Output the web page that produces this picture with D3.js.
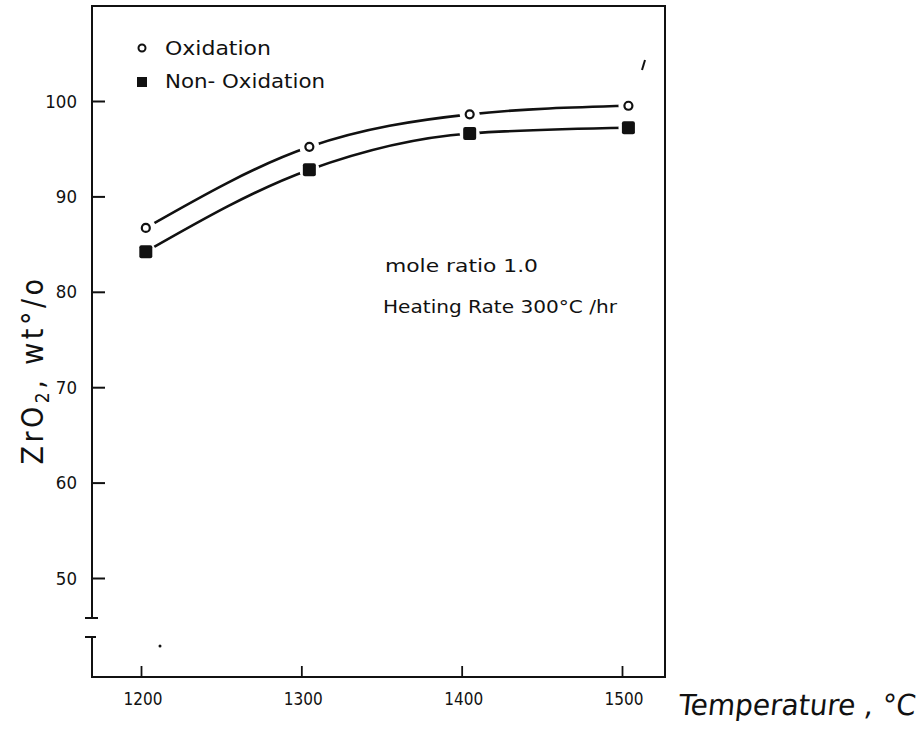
<!DOCTYPE html>
<html><head><meta charset="utf-8">
<script src="https://cdn.jsdelivr.net/npm/d3@7"></script>
<style>body{margin:0;background:#fff}svg{display:block}text{font-family:"DejaVu Sans Condensed","DejaVu Sans",sans-serif;fill:#111}</style>
</head><body>
<script>
const temps = [1203, 1305, 1405, 1504];
const oxidation = [86.7, 95.2, 98.6, 99.5];
const nonOxidation = [84.2, 92.8, 96.6, 97.2];
const xTicks = [1200, 1300, 1400, 1500];
const yTicks = [50, 60, 70, 80, 90, 100];
const seriesNames = ["Oxidation", "Non- Oxidation"];
const notes = ["mole ratio  1.0", "Heating Rate  300\u00B0C /hr"];

(function () {
const W = 921, H = 731;
const svg = d3.select("body").append("svg").attr("width", W).attr("height", H);
svg.append("rect").attr("width", W).attr("height", H).attr("fill", "#fff");

const x = d3.scaleLinear().domain([1200, 1500]).range([141, 622]);
const y = d3.scaleLinear().domain([50, 100]).range([578, 101]);

const fL = 92, fR = 665, fT = 6, fB = 677, breakTop = 618, breakBot = 637;
const ink = "#111";

// frame
const g = svg.append("g").attr("stroke", ink).attr("fill", "none").attr("stroke-width", 2);
g.append("path").attr("d", `M${fL},${breakTop}V${fT}H${fR}V${fB}H${fL}V${breakBot}`);
// break marks
g.append("path").attr("d", `M${fL-7},${breakTop}H${fL+6}M${fL-7},${breakBot}H${fL+4}`);

// y axis ticks (inward) + labels
const yAxis = d3.axisRight(y).tickValues(yTicks).tickSize(13).tickFormat("");
const ya = svg.append("g").attr("transform", `translate(${fL},0)`).call(yAxis);
ya.select(".domain").remove();
ya.selectAll("line").attr("stroke", ink).attr("stroke-width", 2);
svg.append("g").selectAll("text").data(yTicks).join("text")
  .attr("x", 77).attr("y", d => y(d) + 6.5).attr("text-anchor", "end")
  .attr("font-size", 18.5).text(d => d);

// x axis ticks (up) + labels
const xAxis = d3.axisTop(x).tickValues(xTicks).tickSize(11).tickFormat("");
const xa = svg.append("g").attr("transform", `translate(0,${fB})`).call(xAxis);
xa.select(".domain").remove();
xa.selectAll("line").attr("stroke", ink).attr("stroke-width", 1.8);
svg.append("g").selectAll("text").data(xTicks).join("text")
  .attr("x", d => x(d) + 2).attr("y", 705).attr("text-anchor", "middle")
  .attr("font-size", 17).text(d => d);

// axis titles
svg.append("text").attr("x", 678).attr("y", 715).attr("font-size", 29)
  .attr("textLength", 237).attr("lengthAdjust", "spacingAndGlyphs")
  .attr("transform", "translate(75,0) skewX(-6)")
  .text("Temperature , \u00B0C");
const yl = svg.append("text").attr("transform", "translate(43,370) rotate(-90)")
  .attr("text-anchor", "middle").attr("font-size", 30).attr("letter-spacing", 3.5);
yl.append("tspan").text("ZrO");
yl.append("tspan").attr("font-size", 19).attr("dy", 6).text("2");
yl.append("tspan").attr("dy", -6).text(", wt\u00B0/o");

// curves
const line = d3.line().x(d => x(d[0])).y(d => y(d[1])).curve(d3.curveMonotoneX);
const series = [oxidation, nonOxidation];
series.forEach(s => {
  svg.append("path").datum(temps.map((t, i) => [t, s[i]])).attr("d", line)
    .attr("fill", "none").attr("stroke", ink).attr("stroke-width", 2.6);
});
// halos for gaps
series.forEach(s => {
  svg.append("g").selectAll("circle").data(temps.map((t, i) => [t, s[i]])).join("circle")
    .attr("cx", d => x(d[0])).attr("cy", d => y(d[1])).attr("r", 10).attr("fill", "#fff");
});
// markers
svg.append("g").selectAll("circle").data(temps.map((t, i) => [t, oxidation[i]])).join("circle")
  .attr("cx", d => x(d[0])).attr("cy", d => y(d[1])).attr("r", 4)
  .attr("fill", "#fff").attr("stroke", ink).attr("stroke-width", 2.2);
svg.append("g").selectAll("rect").data(temps.map((t, i) => [t, nonOxidation[i]])).join("rect")
  .attr("x", d => x(d[0]) - 6.5).attr("y", d => y(d[1]) - 6.5).attr("width", 13).attr("height", 13)
  .attr("rx", 2).attr("fill", ink);

// legend
svg.append("circle").attr("cx", 142).attr("cy", 48).attr("r", 3.5)
  .attr("fill", "#fff").attr("stroke", ink).attr("stroke-width", 2);
svg.append("rect").attr("x", 137).attr("y", 77).attr("width", 10).attr("height", 10).attr("fill", ink);
svg.append("text").attr("x", 165).attr("y", 55).attr("font-size", 20)
  .attr("textLength", 106).attr("lengthAdjust", "spacingAndGlyphs").text(seriesNames[0]);
svg.append("text").attr("x", 165).attr("y", 88).attr("font-size", 20)
  .attr("textLength", 160).attr("lengthAdjust", "spacingAndGlyphs").text(seriesNames[1]);

// notes
svg.append("text").attr("x", 385).attr("y", 272).attr("font-size", 18)
  .attr("textLength", 153).attr("lengthAdjust", "spacingAndGlyphs").text(notes[0]);
svg.append("text").attr("x", 383).attr("y", 313).attr("font-size", 18)
  .attr("textLength", 234).attr("lengthAdjust", "spacingAndGlyphs").text(notes[1]);

// scan marks
svg.append("path").attr("d", "M645,60L642,70").attr("stroke", ink).attr("stroke-width", 2);
svg.append("circle").attr("cx", 160).attr("cy", 646).attr("r", 1.5).attr("fill", ink);
})();
</script>
</body></html>
